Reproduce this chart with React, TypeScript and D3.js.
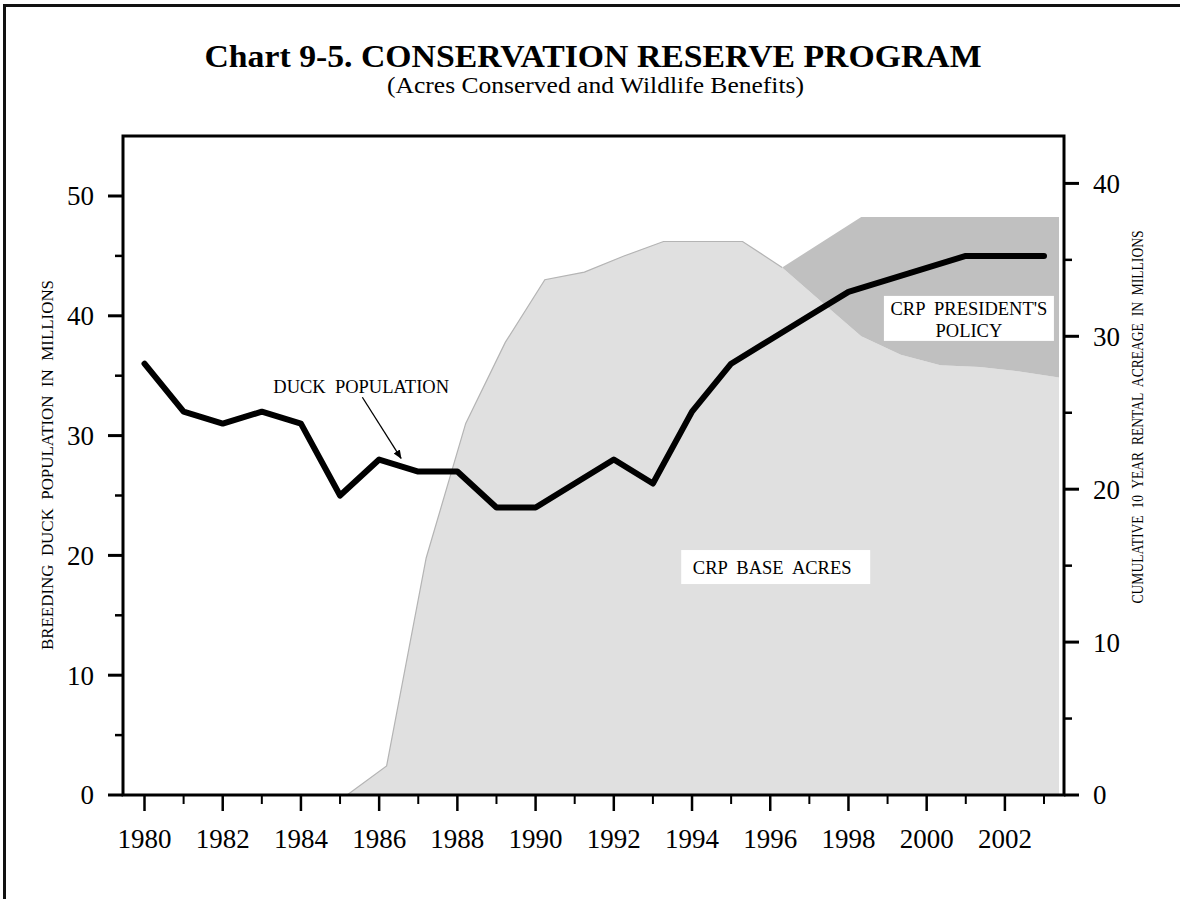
import React from "react";
import * as d3 from "d3";

const years = [1980, 1981, 1982, 1983, 1984, 1985, 1986, 1987, 1988, 1989, 1990, 1991, 1992, 1993, 1994, 1995, 1996, 1997, 1998, 1999, 2000, 2001, 2002, 2003];
const duckPopulation = [36, 32, 31, 32, 31, 25, 28, 27, 27, 24, 24, 26, 28, 26, 32, 36, 38, 40, 42, 43, 44, 45, 45, 45];

const crpYears = [1985, 1986, 1987, 1988, 1989, 1990, 1991, 1992, 1993, 1994, 1995, 1996, 1997, 1998, 1999, 2000, 2001, 2002, 2003];
const crpBaseAcres = [0, 1.9, 15.5, 24.3, 29.6, 33.7, 34.2, 35.25, 36.2, 36.2, 36.2, 34.5, 32.25, 30.0, 28.8, 28.1, 28.0, 27.7, 27.3];

const policyYears = [1996, 1997, 1998, 1999, 2000, 2001, 2002, 2003];
const policyAcres = [34.5, 36.15, 37.8, 37.8, 37.8, 37.8, 37.8, 37.8];

const leftTicks = [0, 10, 20, 30, 40, 50];
const leftMinorTicks = [5, 15, 25, 35, 45];
const rightTicks = [0, 10, 20, 30, 40];
const rightMinorTicks = [5, 15, 25, 35];
const yearLabels = [1980, 1982, 1984, 1986, 1988, 1990, 1992, 1994, 1996, 1998, 2000, 2002];

const W = 1180;
const H = 899;
const box = { left: 123, right: 1064, top: 136, bottom: 795 };
const FONT = "'Liberation Serif', 'Times New Roman', Times, serif";

export default function App() {
  const x = d3.scaleLinear().domain([1980, 2003]).range([144.5, 1044]);
  const xArea = d3.scaleLinear().domain([1980, 2003]).range([149.3, 1059]);
  const yL = d3.scaleLinear().domain([0, 55]).range([box.bottom, box.bottom - 55 * 11.98]);
  const yR = d3.scaleLinear().domain([0, 40]).range([box.bottom, box.bottom - 40 * 15.29]);

  const baseData = crpYears.map((yr, i) => ({ yr, v: crpBaseAcres[i] }));
  const baseLookup = new Map(baseData.map((d) => [d.yr, d.v]));
  const policyData = policyYears.map((yr, i) => ({ yr, top: policyAcres[i], bottom: baseLookup.get(yr) as number }));

  const baseArea = d3
    .area<{ yr: number; v: number }>()
    .x((d) => xArea(d.yr))
    .y0(yR(0))
    .y1((d) => yR(d.v))(baseData) as string;

  const baseEdge = d3
    .line<{ yr: number; v: number }>()
    .x((d) => xArea(d.yr))
    .y((d) => yR(d.v))(baseData.filter((d) => d.yr <= 1996)) as string;

  const policyArea = d3
    .area<{ yr: number; top: number; bottom: number }>()
    .x((d) => xArea(d.yr))
    .y0((d) => yR(d.bottom))
    .y1((d) => yR(d.top))(policyData) as string;

  const duckLine = d3
    .line<number>()
    .x((_, i) => x(years[i]))
    .y((d) => yL(d))(duckPopulation) as string;

  // annotation anchors (in data space)
  const duckLabelX = x(1985.54);
  const duckLabelY = yL(33.55);
  const arrowX1 = x(1985.57);
  const arrowY1 = yL(33.2);
  const arrowX2 = x(1986.56);
  const arrowY2 = yL(28.1);

  const baseLabelX = x(1996.05);
  const baseLabelY = yR(14.45);

  const polLabelX = x(2001.08);
  const polLabelY = yR(31.4);

  return (
    <svg
      width={W}
      height={H}
      viewBox={`0 0 ${W} ${H}`}
      style={{ position: "absolute", left: 0, top: 0, background: "#fff" }}
      fontFamily={FONT}
    >
      <defs>
        <marker id="arrowHead" viewBox="0 0 10 10" refX="9" refY="5" markerWidth="9" markerHeight="9" markerUnits="userSpaceOnUse" orient="auto">
          <path d="M0,1 L10,5 L0,9 Z" fill="#000" />
        </marker>
      </defs>

      {/* outer frame */}
      <path d={`M4.5,${H} V5.5 H${W}`} fill="none" stroke="#111" strokeWidth={3} />

      {/* title */}
      <text x={593} y={67} textAnchor="middle" fontSize={31} fontWeight="bold" textLength={777} lengthAdjust="spacingAndGlyphs" fill="#000">
        Chart  9-5.  CONSERVATION  RESERVE  PROGRAM
      </text>
      <text x={595.5} y={93} textAnchor="middle" fontSize={23} textLength={417} lengthAdjust="spacingAndGlyphs" fill="#000">
        (Acres Conserved and Wildlife Benefits)
      </text>

      {/* areas */}
      <path d={baseArea} fill="#e0e0e0" stroke="none" />
      <path d={policyArea} fill="#c0c0c0" stroke="none" />
      <path d={baseEdge} fill="none" stroke="#b4b4b4" strokeWidth={1.2} />

      {/* labels on areas */}
      <rect x={baseLabelX - 91} y={baseLabelY - 24} width={189} height={34} fill="#fff" />
      <text x={baseLabelX} y={baseLabelY} textAnchor="middle" fontSize={18.5} fill="#000" style={{ whiteSpace: "pre" }}>
        CRP  BASE  ACRES
      </text>

      <rect x={polLabelX - 85} y={polLabelY - 19} width={170} height={45} fill="#fff" />
      <text x={polLabelX} y={polLabelY} textAnchor="middle" fontSize={18.5} fill="#000" style={{ whiteSpace: "pre" }}>
        CRP  PRESIDENT'S
      </text>
      <text x={polLabelX} y={polLabelY + 21.7} textAnchor="middle" fontSize={18.5} fill="#000">
        POLICY
      </text>

      {/* duck line */}
      <path d={duckLine} fill="none" stroke="#000" strokeWidth={6} strokeLinejoin="round" strokeLinecap="round" />

      {/* duck annotation */}
      <text x={duckLabelX} y={duckLabelY} textAnchor="middle" fontSize={18.5} fill="#000" style={{ whiteSpace: "pre" }}>
        DUCK  POPULATION
      </text>
      <line x1={arrowX1} y1={arrowY1} x2={arrowX2} y2={arrowY2} stroke="#000" strokeWidth={1.3} markerEnd="url(#arrowHead)" />

      {/* plot box */}
      <rect x={box.left} y={box.top} width={box.right - box.left} height={box.bottom - box.top} fill="none" stroke="#000" strokeWidth={3} />

      {/* left axis ticks */}
      {leftTicks.map((t) => (
        <g key={`l${t}`}>
          <line x1={box.left - 15} x2={box.left} y1={yL(t)} y2={yL(t)} stroke="#000" strokeWidth={3} />
          <text x={box.left - 29} y={yL(t)} dy="0.35em" textAnchor="end" fontSize={27} fill="#000">
            {t}
          </text>
        </g>
      ))}
      {leftMinorTicks.map((t) => (
        <line key={`lm${t}`} x1={box.left - 8} x2={box.left} y1={yL(t)} y2={yL(t)} stroke="#000" strokeWidth={2.5} />
      ))}

      {/* right axis ticks */}
      {rightTicks.map((t) => (
        <g key={`r${t}`}>
          <line x1={box.right} x2={box.right + 15} y1={yR(t)} y2={yR(t)} stroke="#000" strokeWidth={3} />
          <text x={box.right + 29} y={yR(t)} dy="0.35em" textAnchor="start" fontSize={27} fill="#000">
            {t}
          </text>
        </g>
      ))}
      {rightMinorTicks.map((t) => (
        <line key={`rm${t}`} x1={box.right} x2={box.right + 8} y1={yR(t)} y2={yR(t)} stroke="#000" strokeWidth={2.5} />
      ))}

      {/* bottom axis ticks */}
      {years.map((yr) => {
        const major = (yr - 1980) % 2 === 0;
        return (
          <line key={`x${yr}`} x1={x(yr)} x2={x(yr)} y1={box.bottom} y2={box.bottom + (major ? 16 : 9)} stroke="#000" strokeWidth={major ? 2.5 : 2} />
        );
      })}
      {yearLabels.map((yr) => (
        <text key={`xl${yr}`} x={x(yr)} y={848} textAnchor="middle" fontSize={27} fill="#000">
          {yr}
        </text>
      ))}

      {/* axis titles */}
      <text
        transform={`translate(53, 465) rotate(-90)`}
        textAnchor="middle"
        fontSize={16}
        textLength={370}
        lengthAdjust="spacingAndGlyphs"
        fill="#000"
        style={{ whiteSpace: "pre" }}
      >
        BREEDING  DUCK  POPULATION  IN  MILLIONS
      </text>
      <text
        transform={`translate(1143, 417) rotate(-90)`}
        textAnchor="middle"
        fontSize={16}
        textLength={373}
        lengthAdjust="spacingAndGlyphs"
        fill="#000"
        style={{ whiteSpace: "pre" }}
      >
        CUMULATIVE  10  YEAR  RENTAL  ACREAGE  IN  MILLIONS
      </text>
    </svg>
  );
}
